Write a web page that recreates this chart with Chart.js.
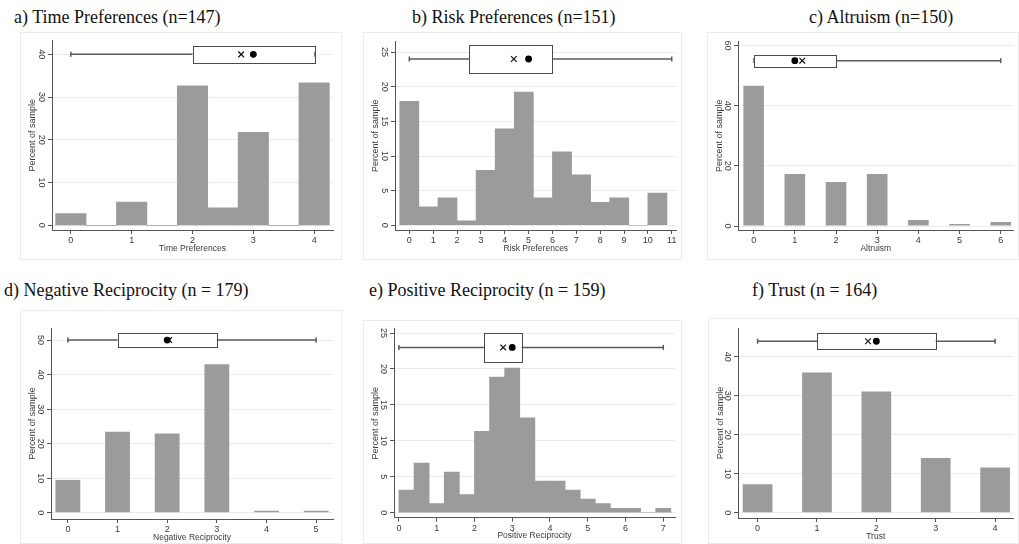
<!DOCTYPE html>
<html>
<head>
<meta charset="utf-8">
<script src="https://cdn.jsdelivr.net/npm/chart.js@4.4.1/dist/chart.umd.min.js"></script>
<style>
  body { margin: 0; background: #fff; width: 1019px; height: 544px; position: relative; overflow: hidden; }
  .frame { position: absolute; box-sizing: border-box; border: 1px solid #ececec; }
  .panel { position: absolute; }
  .ttl { position: absolute; font-family: "Liberation Serif", "Times New Roman", serif; font-size: 18px; color: #111; white-space: nowrap; line-height: 1; }
</style>
</head>
<body>
<div id="root"></div>
<script>
// a) Time Preferences
const timeBins = [0, 0.5, 1, 1.5, 2, 2.5, 3, 3.5, 4];
const timePct = [2.72, 0, 5.44, 0, 32.65, 4.08, 21.77, 0, 33.33];
const timeBox = { min: 0, q1: 2, median: 3, mean: 2.8, q3: 4, max: 4, y: 40 };
const timeXTicks = [0, 1, 2, 3, 4];
const timeYTicks = [0, 10, 20, 30, 40];

// b) Risk Preferences
const riskBins = [0, 0.8, 1.6, 2.4, 3.2, 4.0, 4.8, 5.6, 6.4, 7.2, 8.0, 8.8, 9.6, 10.4];
const riskPct = [17.88, 2.65, 3.97, 0.66, 7.95, 13.91, 19.21, 3.97, 10.6, 7.28, 3.31, 3.97, 0, 4.64];
const riskBox = { min: 0, q1: 2.5, median: 5, mean: 4.38, q3: 6, max: 11, y: 24 };
const riskXTicks = [0, 1, 2, 3, 4, 5, 6, 7, 8, 9, 10, 11];
const riskYTicks = [0, 5, 10, 15, 20, 25];

// c) Altruism
const altBins = [0, 1, 2, 3, 4, 5, 6];
const altPct = [46.67, 17.33, 14.67, 17.33, 2.0, 0.67, 1.33];
const altBox = { min: 0, q1: 0, median: 1, mean: 1.18, q3: 2, max: 6, y: 55 };
const altXTicks = [0, 1, 2, 3, 4, 5, 6];
const altYTicks = [0, 20, 40, 60];

// d) Negative Reciprocity
const negBins = [0, 1, 2, 3, 4, 5];
const negPct = [9.5, 23.46, 22.91, 43.02, 0.56, 0.56];
const negBox = { min: 0, q1: 1, median: 2, mean: 2.04, q3: 3, max: 5, y: 50 };
const negXTicks = [0, 1, 2, 3, 4, 5];
const negYTicks = [0, 10, 20, 30, 40, 50];

// e) Positive Reciprocity
const posBins = [0.2, 0.6, 1.0, 1.4, 1.8, 2.2, 2.6, 3.0, 3.4, 3.8, 4.2, 4.6, 5.0, 5.4, 5.8, 6.2, 6.6, 7.0];
const posPct = [3.14, 6.92, 1.26, 5.66, 2.52, 11.32, 18.87, 20.13, 13.21, 4.4, 4.4, 3.14, 1.89, 1.26, 0.63, 0.63, 0, 0.63];
const posBox = { min: 0, q1: 2.25, median: 3, mean: 2.76, q3: 3.25, max: 7, y: 23 };
const posXTicks = [0, 1, 2, 3, 4, 5, 6, 7];
const posYTicks = [0, 5, 10, 15, 20, 25];

// f) Trust
const trustBins = [0, 1, 2, 3, 4];
const trustPct = [7.32, 35.98, 31.1, 14.02, 11.59];
const trustBox = { min: 0, q1: 1, median: 2, mean: 1.86, q3: 3, max: 4, y: 44 };
const trustXTicks = [0, 1, 2, 3, 4];
const trustYTicks = [0, 10, 20, 30, 40];

const BOX_HALF = 2; // half height of the box, in percent units
const AXIS_COLOR = '#555';
const TEXT_COLOR = '#3a3a3a';

// box drawn right after the whisker line, so it hides the whisker and sits under the markers
const boxPlugin = {
  id: 'boxplot',
  afterDatasetDraw(chart, args, opts) {
    if (args.meta.index !== 1 || !opts.box) return;
    const b = opts.box;
    const x = chart.scales.x, y = chart.scales.y;
    const x0 = x.getPixelForValue(b.q1), x1 = x.getPixelForValue(b.q3);
    const y0 = y.getPixelForValue(b.y + BOX_HALF), y1 = y.getPixelForValue(b.y - BOX_HALF);
    const ctx = chart.ctx;
    ctx.save();
    ctx.fillStyle = '#fff';
    ctx.strokeStyle = '#4a4a4a';
    ctx.lineWidth = 1;
    ctx.fillRect(x0, y0, x1 - x0, y1 - y0);
    ctx.strokeRect(Math.round(x0) + 0.5, Math.round(y0) + 0.5, Math.round(x1 - x0), Math.round(y1 - y0));
    ctx.restore();
  }
};

const panels = [
  { title: 'a) Time Preferences (n=147)', tl: 14, tt: 8, xTitle: 'Time Preferences',
    bins: timeBins, pct: timePct, box: timeBox, xTicks: timeXTicks, yTicks: timeYTicks,
    frame: [20, 32, 322, 228], area: [52, 40.7, 333, 230], x: [-0.31, 4.31], y: [-1.1, 43.2], barPct: 1 },
  { title: 'b) Risk Preferences (n=151)', tl: 412, tt: 8, xTitle: 'Risk Preferences',
    bins: riskBins, pct: riskPct, box: riskBox, xTicks: riskXTicks, yTicks: riskYTicks,
    frame: [363, 32, 319, 228], area: [395, 41.7, 677, 230], x: [-0.6, 11.2], y: [-0.68, 26.5], barPct: 1 },
  { title: 'c) Altruism (n=150)', tl: 809, tt: 8, xTitle: 'Altruism',
    bins: altBins, pct: altPct, box: altBox, xTicks: altXTicks, yTicks: altYTicks,
    frame: [707, 32, 312, 228], area: [738, 41.7, 1018, 230], x: [-0.38, 6.31], y: [-1.33, 61.3], barPct: 0.5 },
  { title: 'd) Negative Reciprocity (n = 179)', tl: 4, tt: 281, xTitle: 'Negative Reciprocity',
    bins: negBins, pct: negPct, box: negBox, xTicks: negXTicks, yTicks: negYTicks,
    frame: [20, 310, 322, 234], area: [51, 328, 333, 519], x: [-0.34, 5.34], y: [-1.82, 53.5], barPct: 0.5 },
  { title: 'e) Positive Reciprocity (n = 159)', tl: 369, tt: 281, xTitle: 'Positive Reciprocity',
    bins: posBins, pct: posPct, box: posBox, xTicks: posXTicks, yTicks: posYTicks,
    frame: [363, 320, 319, 224], area: [394, 328.7, 675, 517.7], x: [-0.13, 7.31], y: [-0.69, 25.6], barPct: 1 },
  { title: 'f) Trust (n = 164)', tl: 752, tt: 281, xTitle: 'Trust',
    bins: trustBins, pct: trustPct, box: trustBox, xTicks: trustXTicks, yTicks: trustYTicks,
    frame: [708, 318, 311, 226], area: [738, 328, 1018, 518], x: [-0.33, 4.31], y: [-1.36, 47.4], barPct: 0.5 }
];

const X_AXIS_H = 24;
const root = document.getElementById('root');

function makePanel(p) {
  const [fl, ft, fw, fh] = p.frame;
  const [al, at, ar, ab] = p.area;

  const frame = document.createElement('div');
  frame.className = 'frame';
  Object.assign(frame.style, { left: fl + 'px', top: ft + 'px', width: fw + 'px', height: fh + 'px' });
  root.appendChild(frame);

  const ttl = document.createElement('div');
  ttl.className = 'ttl';
  ttl.textContent = p.title;
  Object.assign(ttl.style, { left: p.tl + 'px', top: p.tt + 'px' });
  root.appendChild(ttl);

  const wrap = document.createElement('div');
  wrap.className = 'panel';
  Object.assign(wrap.style, { left: fl + 'px', top: ft + 'px', width: fw + 'px', height: fh + 'px' });
  const canvas = document.createElement('canvas');
  canvas.width = fw;
  canvas.height = fh;
  wrap.appendChild(canvas);
  root.appendChild(wrap);

  const tickFont = { family: "'Liberation Sans', Arial, sans-serif", size: 9 };

  new Chart(canvas.getContext('2d'), {
    type: 'bar',
    data: {
      datasets: [
        { // mean
          type: 'line', order: 0, showLine: false, clip: false,
          data: [{ x: p.box.mean, y: p.box.y }],
          pointStyle: 'crossRot', pointRadius: 4, pointBorderColor: '#111', pointBorderWidth: 1.2
        },
        { // whisker
          type: 'line', order: 1, clip: false,
          data: [{ x: p.box.min, y: p.box.y }, { x: p.box.max, y: p.box.y }],
          borderColor: '#5a5a5a', borderWidth: 1.5,
          pointStyle: 'line', pointRotation: 90, pointRadius: 2.5,
          pointBorderColor: '#5a5a5a', pointBorderWidth: 1.5
        },
        { // median
          type: 'line', order: 0, showLine: false, clip: false,
          data: [{ x: p.box.median, y: p.box.y }],
          pointStyle: 'circle', pointRadius: 3.4, pointBackgroundColor: '#000', pointBorderColor: '#000', pointBorderWidth: 0
        },
        { // histogram
          type: 'bar', order: 3,
          data: p.bins.map((b, i) => ({ x: b, y: p.pct[i] })),
          backgroundColor: '#9b9b9b', borderWidth: 0,
          barPercentage: p.barPct, categoryPercentage: 1, grouped: false
        }
      ]
    },
    options: {
      responsive: false,
      devicePixelRatio: 1,
      animation: false,
      layout: { padding: { left: 0, top: at - ft, right: fl + fw - ar, bottom: ft + fh - ab - X_AXIS_H } },
      plugins: { legend: { display: false }, tooltip: { enabled: false }, boxplot: { box: p.box } },
      scales: {
        x: {
          type: 'linear', min: p.x[0], max: p.x[1], offset: false,
          afterBuildTicks: s => { s.ticks = p.xTicks.map(v => ({ value: v })); },
          afterFit: s => { s.height = X_AXIS_H; },
          grid: { offset: false, drawOnChartArea: false, drawTicks: true, tickLength: 4, tickColor: AXIS_COLOR },
          border: { color: AXIS_COLOR, width: 1 },
          ticks: { font: tickFont, color: TEXT_COLOR, padding: 1, maxRotation: 0 },
          title: { display: true, text: p.xTitle, font: { family: tickFont.family, size: 8.5 }, color: TEXT_COLOR, padding: { top: 0, bottom: 0.6 } }
        },
        y: {
          type: 'linear', min: p.y[0], max: p.y[1],
          afterBuildTicks: s => { s.ticks = p.yTicks.map(v => ({ value: v })); },
          afterFit: s => { s.width = al - fl; },
          grid: { color: '#ebebeb', lineWidth: 1, drawTicks: true, tickLength: 4, tickColor: AXIS_COLOR },
          border: { color: AXIS_COLOR, width: 1 },
          ticks: { font: tickFont, color: TEXT_COLOR, padding: 1.5, minRotation: -90, maxRotation: -90, crossAlign: 'center' },
          title: { display: true, text: 'Percent of sample', font: { family: tickFont.family, size: 9 }, color: TEXT_COLOR, padding: { top: 7.5, bottom: 0 } }
        }
      }
    },
    plugins: [boxPlugin]
  });
}

panels.forEach(makePanel);
</script>
</body>
</html>
